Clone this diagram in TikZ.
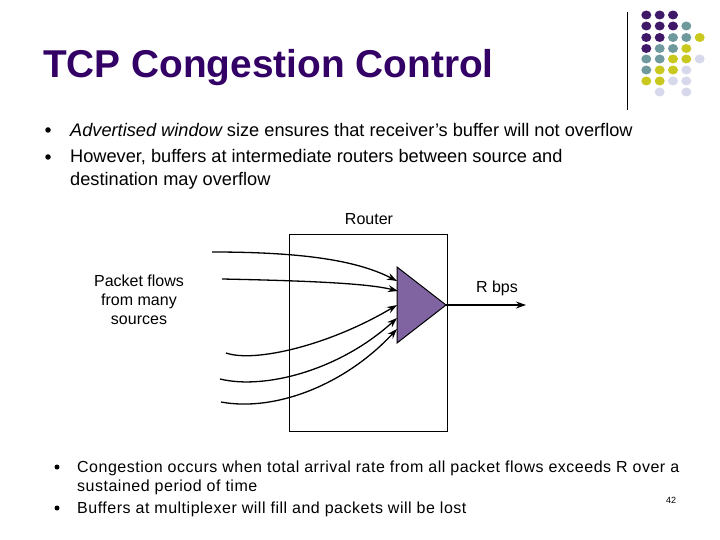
\documentclass[tikz,border=0pt]{standalone}
\usepackage{fontspec}
\setmainfont{Liberation Sans}
\usetikzlibrary{arrows.meta}
\definecolor{titlecol}{RGB}{51,0,102}
\definecolor{dp}{RGB}{64,24,104}
\definecolor{dt}{RGB}{110,154,158}
\definecolor{dy}{RGB}{200,200,30}
\definecolor{dl}{RGB}{216,216,236}
\definecolor{trifill}{RGB}{128,100,162}
\tikzset{
  dot/.style={fill=#1, draw=none, ellipse, minimum width=10pt, minimum height=9pt, inner sep=0pt},
  bigtxt/.style={anchor=base west, inner sep=0pt, font=\fontsize{18.2}{23}\selectfont},
  smalltxt/.style={anchor=base west, inner sep=0pt, font=\fontsize{16}{19}\selectfont\addfontfeatures{LetterSpace=3.2}},
  lbl/.style={inner sep=0pt, font=\fontsize{16}{19}\selectfont, align=center},
  bul/.style={circle, fill=black, inner sep=0pt, minimum size=#1},
  flow/.style={line width=1.3pt, -{Stealth[length=10pt,width=7pt]}},
}
\usetikzlibrary{shapes.geometric}
\begin{document}
\begin{tikzpicture}[x=1pt,y=-1pt]
\useasboundingbox (0,0) rectangle (720,540);
% title
\node[anchor=base west, inner sep=0pt, text=titlecol, font=\fontsize{38.8}{40}\selectfont\bfseries] (title) at (43,78) {TCP Congestion Control};
% decorative line and dots
\draw[line width=0.8pt] (627,12) -- (627,110);
\foreach \c/\x/\y in {dp/646.3/15, dp/659.7/15, dp/673/15,
  dp/646.3/26, dp/659.7/26, dp/673/26, dt/686.3/26,
  dp/646.3/37.5, dp/659.7/37.5, dt/673/37.5, dt/686.3/37.5, dy/699.7/37.5,
  dp/646.3/48.5, dt/659.7/48.5, dt/673/48.5, dy/686.3/48.5,
  dt/646.3/59, dt/659.7/59, dy/673/59, dy/686.3/59, dl/699.7/59,
  dt/646.3/70, dy/659.7/70, dy/673/70, dl/686.3/70,
  dy/646.3/81, dy/659.7/81, dl/673/81, dl/686.3/81,
  dl/659.7/92, dl/686.3/92}
  \node[dot=\c] at (\x,\y) {};
% top bullets
\node[bul=5.5pt] (b1) at (48,130) {};
\node[bul=5.5pt] (b2) at (48,157) {};
\node[bigtxt] (t1) at (70,137) {\itshape Advertised window\upshape{} size ensures that receiver’s buffer will not overflow};
\node[bigtxt] (t2) at (70,163) {However, buffers at intermediate routers between source and};
\node[bigtxt] (t3) at (70,186) {destination may overflow};
% router
\node[draw, line width=1pt, minimum width=158pt, minimum height=197pt, inner sep=0pt] (box) at (368,332.5) {};
\node[lbl, anchor=base] (router) at (369,225) {Router};
\coordinate (tA) at (397,267);
\coordinate (tB) at (397,343);
\coordinate (tC) at (446,305);
\draw[fill=trifill, line width=1pt, line join=miter] (tA) -- (tB) -- (tC) -- cycle;
\coordinate (out) at (526,305);
\draw[flow] (tC) -- (out);
\node[lbl, anchor=base] (rbps) at (497,292) {R bps};
\node[lbl] (src) at (139,300) {Packet flows\\from many\\sources};
% flows
\coordinate (s1) at (212,252);
\coordinate (s2) at (222,279);
\coordinate (s3) at (226,353);
\coordinate (s4) at (220,379);
\coordinate (s5) at (221,402);
\coordinate (e1) at (397,281);
\coordinate (e2) at (398,291);
\coordinate (e3) at (397,305);
\coordinate (e4) at (397,318);
\coordinate (e5) at (397,329);
\draw[flow] (s1) .. controls (310,252) and (360,262) .. (e1);
\draw[flow] (s2) .. controls (320,281) and (370,284) .. (e2);
\draw[flow] (s3) .. controls (255,363) and (330,345) .. (e3);
\draw[flow] (s4) .. controls (265,390) and (340,370) .. (e4);
\draw[flow] (s5) .. controls (275,412) and (345,385) .. (e5);
% bottom bullets
\node[bul=5pt] (b3) at (57,467) {};
\node[bul=5pt] (b4) at (57,508) {};
\node[smalltxt] (u1) at (77,472) {Congestion occurs when total arrival rate from all packet flows exceeds R over a};
\node[smalltxt] (u2) at (77,491) {sustained period of time};
\node[smalltxt] (u3) at (77,513) {Buffers at multiplexer will fill and packets will be lost};
\node[anchor=base, inner sep=0pt, font=\fontsize{9}{10}\selectfont] (pg) at (671,503) {42};
\end{tikzpicture}
\end{document}
